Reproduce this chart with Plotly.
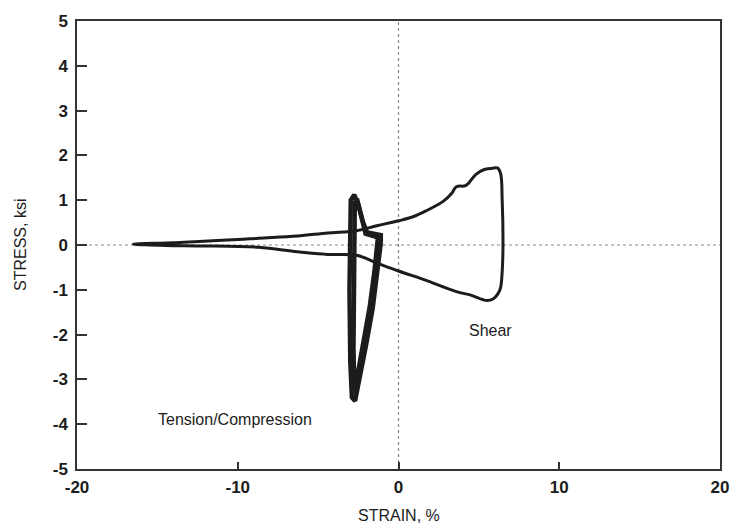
import plotly.graph_objects as go

# Shear hysteresis loop (strain %, stress ksi), traced counter-clockwise from the left tip
shear_strain = [-16.5, -14.0, -12.4, -10.0, -8.7, -6.3, -4.4, -2.6, -1.35, 0.0, 0.9, 1.7, 2.8,
                3.3, 3.6, 4.2, 4.8, 5.3, 5.8, 6.15, 6.35, 6.45, 6.5, 6.45, 6.35, 6.2,
                5.9, 5.5, 4.5, 3.6, 1.8, 0.0, -1.35, -2.6, -4.4, -6.3, -8.7, -12.4, -14.5, -16.5]
shear_stress = [0.02, 0.05, 0.08, 0.12, 0.15, 0.20, 0.27, 0.32, 0.43, 0.54, 0.63, 0.76, 0.98,
                1.15, 1.30, 1.33, 1.57, 1.68, 1.71, 1.72, 1.60, 1.0, 0.0, -0.6, -0.95, -1.08,
                -1.20, -1.24, -1.12, -1.04, -0.80, -0.58, -0.40, -0.23, -0.21, -0.15, -0.05, -0.02, -0.01, 0.02]

# Tension/compression hysteresis, two overlapping cycles
tc1_strain = [-1.1, -1.3, -1.6, -2.0, -2.4, -2.7, -2.9, -3.0, -3.05, -3.02, -2.97, -2.75, -2.5, -2.2, -1.95, -1.1, -1.1]
tc1_stress = [0.05, -0.6, -1.4, -2.2, -3.0, -3.48, -3.4, -2.6, -1.0, 0.3, 1.0, 1.12, 0.9, 0.5, 0.28, 0.22, 0.05]
tc2_strain = [-1.3, -1.5, -1.8, -2.2, -2.5, -2.75, -2.8, -2.75, -2.72, -2.72, -2.55, -2.3, -2.05, -1.3, -1.3]
tc2_stress = [0.1, -0.6, -1.4, -2.2, -2.9, -3.3, -2.3, -1.0, 0.3, 0.95, 0.98, 0.6, 0.25, 0.17, 0.1]

x_ticks = [-20, -10, 0, 10, 20]
y_ticks = [-5, -4, -3, -2, -1, 0, 1, 2, 3, 4, 5]

ink = "#1c1c1c"
font_family = "Liberation Sans, Arial"

fig = go.Figure()
fig.add_trace(go.Scatter(x=shear_strain, y=shear_stress, mode="lines",
                         line=dict(color=ink, width=3), line_shape="spline",
                         hoverinfo="skip"))
fig.add_trace(go.Scatter(x=tc1_strain, y=tc1_stress, mode="lines",
                         line=dict(color=ink, width=4.5), hoverinfo="skip"))
fig.add_trace(go.Scatter(x=tc2_strain, y=tc2_stress, mode="lines",
                         line=dict(color=ink, width=4.5), hoverinfo="skip"))

# dotted reference lines through the origin
fig.add_shape(type="line", x0=0, x1=0, y0=-5, y1=5, xref="x", yref="y",
              line=dict(color="#888888", width=1.2, dash="dot"), layer="below")
fig.add_shape(type="line", x0=-20, x1=20, y0=0, y1=0, xref="x", yref="y",
              line=dict(color="#888888", width=1.2, dash="dot"), layer="below")

fig.add_annotation(x=5.75, y=-1.9, text="Shear", showarrow=False,
                   font=dict(family=font_family, size=16, color=ink))
fig.add_annotation(x=-10.2, y=-3.9, text="Tension/Compression", showarrow=False,
                   font=dict(family=font_family, size=16, color=ink))

# axis titles
fig.add_annotation(xref="paper", yref="paper", x=0.5, y=0, yshift=-46,
                   xanchor="center", yanchor="middle", text="STRAIN, %",
                   showarrow=False, font=dict(family=font_family, size=16, color=ink))
fig.add_annotation(xref="paper", yref="paper", x=0, xshift=-57, y=0.5,
                   xanchor="center", yanchor="middle", text="STRESS, ksi",
                   textangle=-90, showarrow=False,
                   font=dict(family=font_family, size=16, color=ink))

tickfont = dict(family=font_family, size=17, color=ink, weight="bold")
fig.update_xaxes(range=[-20, 20], tickvals=x_ticks, ticktext=[str(v) for v in x_ticks],
                 showgrid=False, zeroline=False, showline=True, mirror=True,
                 linecolor="#333333", linewidth=1.5, ticks="inside", ticklen=7,
                 tickwidth=1.5, tickcolor="#333333", tickfont=tickfont, ticklabelstandoff=2)
fig.update_yaxes(range=[-5, 5], tickvals=y_ticks, ticktext=[str(v) for v in y_ticks],
                 showgrid=False, zeroline=False, showline=True, mirror=True,
                 linecolor="#333333", linewidth=1.5, ticks="inside", ticklen=10,
                 tickwidth=1.5, tickcolor="#333333", tickfont=tickfont, ticklabelstandoff=4)

fig.update_layout(width=741, height=527, showlegend=False,
                  margin=dict(l=77, r=14, t=14, b=58),
                  plot_bgcolor="white", paper_bgcolor="white")

fig.write_html("out.html")
